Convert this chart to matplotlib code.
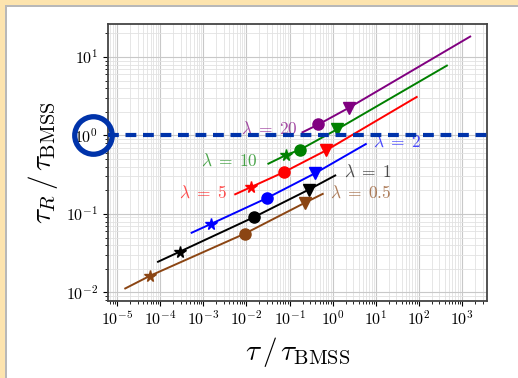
import numpy as np
import matplotlib
matplotlib.use("Agg")
import matplotlib.pyplot as plt
from matplotlib.ticker import LogLocator, FuncFormatter, NullFormatter
from matplotlib.patches import Rectangle
import matplotlib.transforms as mtransforms

plt.rcParams['mathtext.fontset'] = 'cm'
plt.rcParams['font.family'] = 'serif'

# curve data (log10 of tau/tau_BMSS, log10 of tau_R/tau_BMSS)
lambdas = ['20', '10', '5', '2', '1', '0.5']
colors = ['purple', 'green', 'red', 'blue', 'black', '#8B4513']

line_logx = [
    [-0.70, -0.33, 0.37, 3.19],
    [-1.49, -1.08, -0.75, 0.11, 2.65],
    [-2.26, -1.90, -1.12, -0.15, 1.95],
    [-3.27, -2.83, -1.53, -0.40, 0.77],
    [-4.05, -3.54, -1.82, -0.55, 0.06],
    [-4.81, -4.24, -2.03, -0.65, -0.23],
]
line_logy = [
    [0.04, 0.14, 0.35, 1.26],
    [-0.36, -0.25, -0.18, 0.08, 0.89],
    [-0.75, -0.66, -0.465, -0.19, 0.49],
    [-1.24, -1.13, -0.80, -0.48, -0.11],
    [-1.61, -1.48, -1.04, -0.69, -0.51],
    [-1.95, -1.79, -1.25, -0.86, -0.745],
]

# markers: star, circle, triangle (None = not visible)
star_pts = [None, (-1.08, -0.25), (-1.90, -0.66), (-2.83, -1.13), (-3.54, -1.48), (-4.24, -1.79)]
circle_pts = [(-0.33, 0.14), (-0.75, -0.18), (-1.12, -0.465), (-1.53, -0.80), (-1.82, -1.04), (-2.03, -1.25)]
tri_pts = [(0.37, 0.35), (0.11, 0.08), (-0.15, -0.19), (-0.40, -0.48), (-0.55, -0.69), (-0.65, -0.86)]

# label positions (log10 coordinates)
label_pos = [(-1.47, 0.074), (-2.40, -0.33), (-3.0, -0.74), (1.50, -0.09), (0.82, -0.47), (0.66, -0.74)]

fig = plt.figure(figsize=(5.18, 3.78), dpi=100)
fig.patch.set_facecolor('white')
ax = fig.add_axes([108 / 518, 1 - 301 / 378, 379 / 518, 277 / 378])

for i in range(len(lambdas)):
    x = 10 ** np.array(line_logx[i])
    y = 10 ** np.array(line_logy[i])
    c = colors[i]
    ax.plot(x, y, color=c, lw=1.4, zorder=3)
    if star_pts[i] is not None:
        ax.plot(10 ** star_pts[i][0], 10 ** star_pts[i][1], '*', color=c, ms=8.5, zorder=4)
    ax.plot(10 ** circle_pts[i][0], 10 ** circle_pts[i][1], 'o', color=c, ms=8, zorder=4)
    ax.plot(10 ** tri_pts[i][0], 10 ** tri_pts[i][1], 'v', color=c, ms=8, zorder=4)
    ax.text(10 ** label_pos[i][0], 10 ** label_pos[i][1], r'$\lambda\;=\;%s$' % lambdas[i],
            color=c, alpha=0.7, fontsize=12.5, ha='center', va='center', zorder=3)

# dashed reference line at tau_R = tau_BMSS
ax.axhline(1.0, color='#0033aa', lw=3, dashes=(2.6, 1.6), zorder=5)

# circle around the 10^0 tick label
trans = mtransforms.blended_transform_factory(ax.transAxes, ax.transData)
ax.plot([-0.039], [1.0], 'o', ms=27, mfc='none', mec='#0033aa', mew=3.8,
        transform=trans, clip_on=False, zorder=6)

ax.set_xscale('log')
ax.set_yscale('log')
ax.set_xlim(10 ** -5.21, 10 ** 3.58)
ax.set_ylim(10 ** -2.11, 10 ** 1.42)

fmt = FuncFormatter(lambda v, p: r'$10^{%d}$' % int(round(np.log10(v))))
ax.xaxis.set_major_locator(LogLocator(base=10, numticks=20))
ax.xaxis.set_minor_locator(LogLocator(base=10, subs=np.arange(2, 10), numticks=20))
ax.yaxis.set_major_locator(LogLocator(base=10, numticks=20))
ax.yaxis.set_minor_locator(LogLocator(base=10, subs=np.arange(2, 10), numticks=20))
ax.xaxis.set_major_formatter(fmt)
ax.yaxis.set_major_formatter(fmt)
ax.xaxis.set_minor_formatter(NullFormatter())
ax.yaxis.set_minor_formatter(NullFormatter())
ax.tick_params(labelsize=11.5)

ax.grid(True, which='major', color='#c8c8c8', lw=0.8)
ax.grid(True, which='minor', color='#e2e2e2', lw=0.6)
ax.set_axisbelow(True)
for s in ax.spines.values():
    s.set_color('#444444')
    s.set_linewidth(1.3)

ax.set_xlabel(r'$\tau\,/\,\tau_{\rm BMSS}$', fontsize=21)
ax.set_ylabel(r'$\tau_R\,/\,\tau_{\rm BMSS}$', fontsize=21)

# yellow frame along left and top edges
fig.patches.append(Rectangle((0, 0), 5 / 518, 1, transform=fig.transFigure,
                             facecolor='#fde4ae', edgecolor='none', zorder=0))
fig.patches.append(Rectangle((0, 1 - 5 / 378), 1, 5 / 378, transform=fig.transFigure,
                             facecolor='#fde4ae', edgecolor='none', zorder=0))
fig.patches.append(Rectangle((5 / 518, 0), 2 / 518, 1 - 5 / 378, transform=fig.transFigure,
                             facecolor='#b8b8b8', edgecolor='none', zorder=0))
fig.patches.append(Rectangle((5 / 518, 1 - 7 / 378), 1, 2 / 378, transform=fig.transFigure,
                             facecolor='#b8b8b8', edgecolor='none', zorder=0))

fig.savefig('out.png', dpi=100)
